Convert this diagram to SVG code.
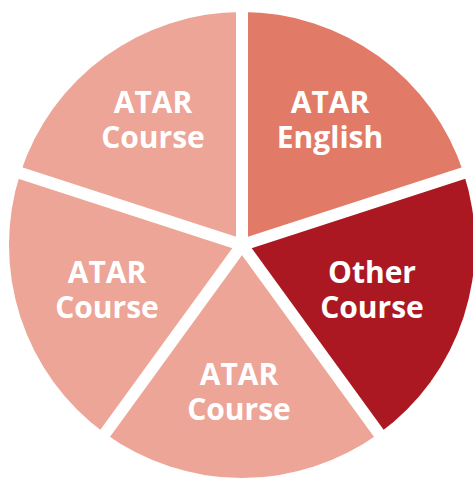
<svg xmlns="http://www.w3.org/2000/svg" width="473" height="481" viewBox="0 0 473 481">
<style>
.light{fill:#ECA597}
.mid{fill:#E27A68}
.dark{fill:#AB1822}
.lbl{font-family:"Open Sans","Noto Sans","Liberation Sans",sans-serif;font-weight:700;font-size:30px;fill:#FFFFFF;text-anchor:middle}
.gap{stroke:#FFFFFF;stroke-width:12;stroke-linecap:butt}
</style>
<rect width="473" height="481" fill="#FFFFFF"/>
<g id="slice-english">
<path class="mid" d="M242 245 L242 12 A233 233 0 0 1 463.6 173 Z"/>
<text class="lbl" x="330" y="113">ATAR</text>
<text class="lbl" x="330" y="148">English</text>
</g>
<g id="slice-other">
<path class="dark" d="M242 245 L463.6 173 A233 233 0 0 1 378.95 433.5 Z"/>
<text class="lbl" x="372" y="283">Other</text>
<text class="lbl" x="372" y="318">Course</text>
</g>
<g id="slice-bottom">
<path class="light" d="M242 245 L378.95 433.5 A233 233 0 0 1 105.05 433.5 Z"/>
<text class="lbl" x="239" y="385">ATAR</text>
<text class="lbl" x="239" y="420">Course</text>
</g>
<g id="slice-left">
<path class="light" d="M242 245 L105.05 433.5 A233 233 0 0 1 20.4 173 Z"/>
<text class="lbl" x="107" y="283">ATAR</text>
<text class="lbl" x="107" y="318">Course</text>
</g>
<g id="slice-topleft">
<path class="light" d="M242 245 L20.4 173 A233 233 0 0 1 242 12 Z"/>
<text class="lbl" x="153" y="113">ATAR</text>
<text class="lbl" x="153" y="148">Course</text>
</g>
<g id="connectors">
<line class="gap" x1="242" y1="245" x2="242" y2="0"/>
<line class="gap" x1="242" y1="245" x2="480" y2="167.7"/>
<line class="gap" x1="242" y1="245" x2="389.5" y2="448"/>
<line class="gap" x1="242" y1="245" x2="94.5" y2="448"/>
<line class="gap" x1="242" y1="245" x2="4" y2="167.7"/>
</g>
</svg>
